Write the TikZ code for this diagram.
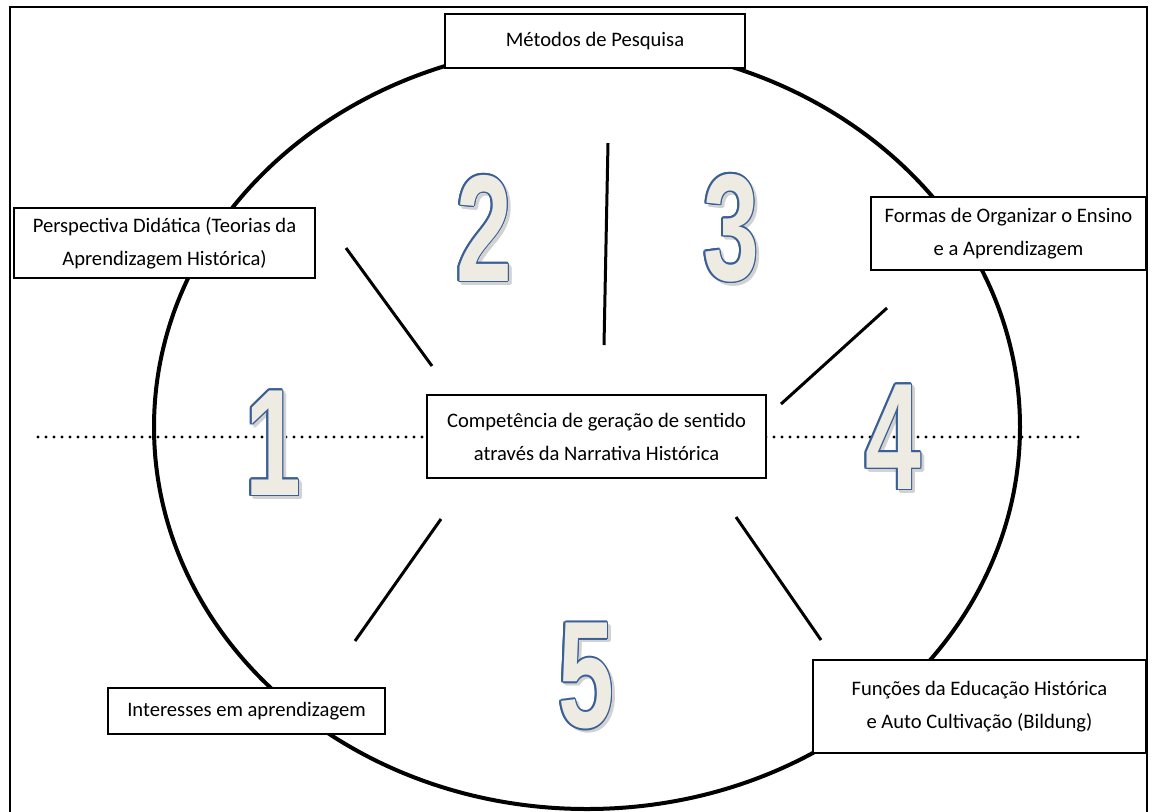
\documentclass[tikz,border=0pt]{standalone}
\usepackage{fontspec}
\setmainfont{Carlito}
\newfontfamily\numfont{Liberation Sans}
\usepackage{graphicx}
\usetikzlibrary{calc,shadows}
\definecolor{numblue}{RGB}{58,95,150}
\definecolor{numfill}{RGB}{238,236,226}
\definecolor{numshade}{RGB}{210,210,210}
\tikzset{
 box/.style={draw=black, line width=0.7pt, fill=white, align=center, inner sep=0pt,
   font=\fontsize{10.3}{16.5}\selectfont,
   drop shadow={shadow xshift=0.5pt, shadow yshift=-0.6pt, fill=black!40}},
 spoke/.style={line width=1.5pt},
 ring/.style={line width=2pt},
 frame/.style={line width=1pt},
 dotline/.style={line width=1.6pt, line cap=round, dash pattern=on 0pt off 4pt},
 numtxt/.style={inner sep=0pt, font=\numfont\bfseries\fontsize{76}{76}\selectfont},
}
\newcommand\bignum[3]{%
 \foreach \a in {0,60,...,300} \node[numtxt,text=numshade] at ($(#2)+(1.5pt,-1.5pt)+(\a:0.8pt)$) {\scalebox{0.66}[1]{#3}};
 \foreach \a in {0,30,...,330} \node[numtxt,text=numblue] at ($(#2)+(\a:0.8pt)$) {\scalebox{0.66}[1]{#3}};
 \node[numtxt,text=numfill] (#1) at (#2) {\scalebox{0.66}[1]{#3}};
}
\begin{document}
\begin{tikzpicture}[x=0.5pt,y=-0.5pt]
\useasboundingbox (0,0) rectangle (1152,811);
\clip (0,0) rectangle (1152,811);
\fill[white] (0,0) rectangle (1152,811);
\draw[frame] (10,830) -- (10,7) -- (1147,7) -- (1147,830);
\draw[ring] (587,427) ellipse [x radius=433, y radius=382];
\coordinate (dl) at (38,437);
\coordinate (dr) at (1082,437);
\draw[dotline] (dl) -- (dr);
% spokes
\coordinate (t1) at (608,143); \coordinate (t2) at (604,345);
\coordinate (ul1) at (346,248); \coordinate (ul2) at (432,366);
\coordinate (ur1) at (887,308); \coordinate (ur2) at (781,404);
\coordinate (ll1) at (441,519); \coordinate (ll2) at (355,641);
\coordinate (lr1) at (736,517); \coordinate (lr2) at (821,640);
\draw[spoke] (t1) -- (t2);
\draw[spoke] (ul1) -- (ul2);
\draw[spoke] (ur1) -- (ur2);
\draw[spoke] (ll1) -- (ll2);
\draw[spoke] (lr1) -- (lr2);
% boxes
\node[box, minimum width=150pt, minimum height=27pt] (met) at (595,41) {Métodos de Pesquisa};
\node[box, minimum width=150.5pt, minimum height=35pt] (per) at (164.5,243) {Perspectiva Didática (Teorias da\\Aprendizagem Histórica)};
\node[box, minimum width=137.5pt, minimum height=36.5pt] (for) at (1008.5,233.5) {Formas de Organizar o Ensino\\e a Aprendizagem};
\node[box, minimum width=169.5pt, minimum height=41.5pt] (cen) at (596.5,436.5) {Competência de geração de sentido\\através da Narrativa Histórica};
\node[box, minimum width=138.5pt, minimum height=23pt] (int) at (246.5,711) {Interesses em aprendizagem};
\node[box, minimum width=166.5pt, minimum height=46.5pt] (fun) at (979.5,706.5) {Funções da Educação Histórica\\e Auto Cultivação (Bildung)};
% numbers
\bignum{n1}{273,443}{1}
\bignum{n2}{484,228}{2}
\bignum{n3}{731,228}{3}
\bignum{n4}{893,437}{4}
\bignum{n5}{586,676}{5}
\end{tikzpicture}
\end{document}
